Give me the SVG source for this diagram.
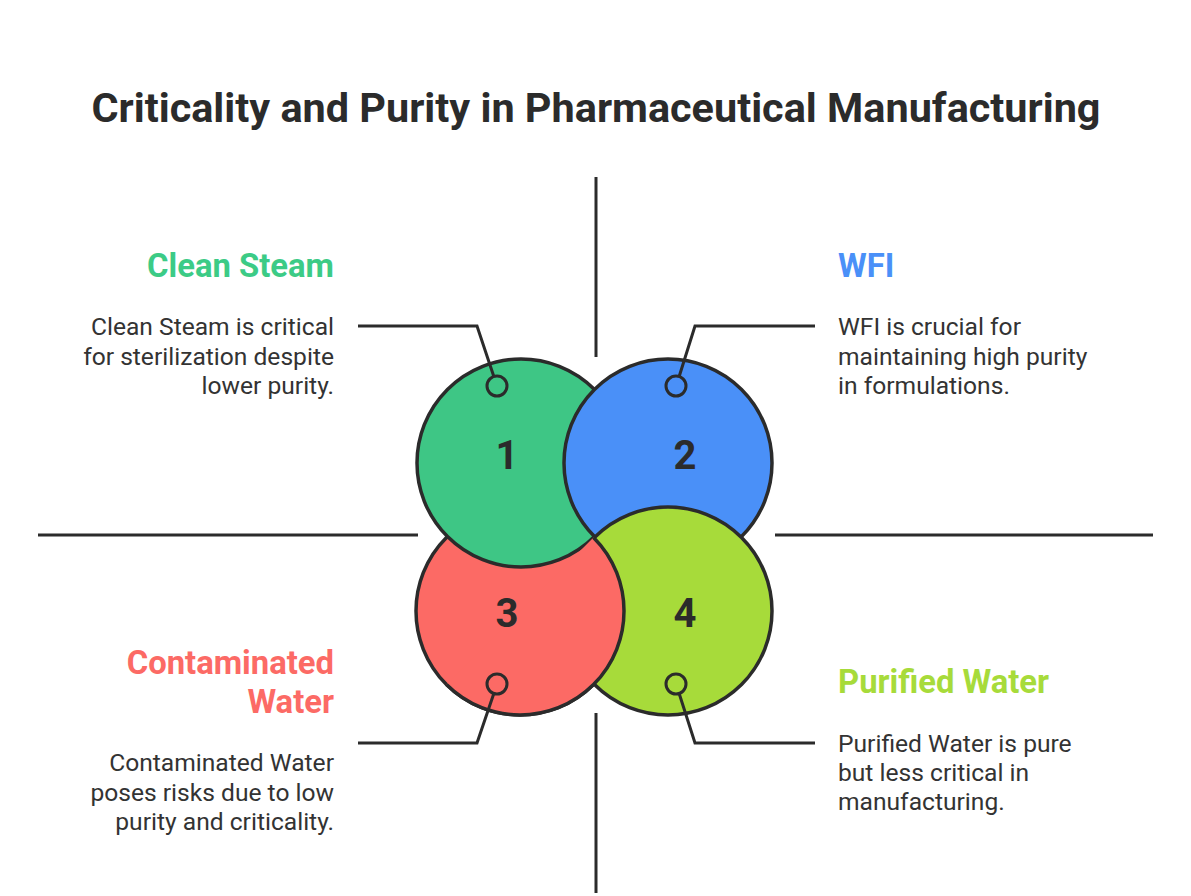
<svg xmlns="http://www.w3.org/2000/svg" width="1191" height="896" viewBox="0 0 1191 896">
<defs>
<style>
.ln{stroke:#2b2b2b;stroke-width:3;fill:none;stroke-linecap:butt}
.c{stroke:#2b2b2b;stroke-width:3.5}
.m{stroke:#2b2b2b;stroke-width:3}
.t{font-family:Roboto,"Liberation Sans",sans-serif;fill:#2b2b2b}
.title{font-size:41.4px;font-weight:700}
.h{font-size:32.8px;font-weight:700}
.b{font-size:24.6px;fill:#333333}
.n{font-size:40px;font-weight:700;text-anchor:middle}
.g{fill:#3ec685}.bl{fill:#4a90f8}.r{fill:#fc6a65}.y{fill:#a7db3a}
</style>
<clipPath id="half"><polygon points="994,137 1191,137 1191,896 235,896"/></clipPath>
</defs>
<rect width="1191" height="896" fill="#ffffff"/>
<text class="t title" x="596" y="122" text-anchor="middle">Criticality and Purity in Pharmaceutical Manufacturing</text>
<g id="axes">
<line class="ln" x1="596" y1="177" x2="596" y2="357"/>
<line class="ln" x1="596" y1="713" x2="596" y2="893"/>
<line class="ln" x1="38" y1="535" x2="418" y2="535"/>
<line class="ln" x1="775" y1="535" x2="1153" y2="535"/>
</g>
<g id="circles">
<circle id="c3" class="c r" cx="520" cy="611" r="104"/>
<circle id="c1" class="c g" cx="521" cy="463" r="104"/>
<circle id="c2" class="c bl" cx="668" cy="463" r="104"/>
<circle id="c4" class="c y" cx="668" cy="611" r="104"/>
<circle class="c r" cx="520" cy="611" r="104" clip-path="url(#half)"/>
</g>
<g id="connectors">
<polyline class="ln" points="358,326 477,326 494,377"/>
<polyline class="ln" points="815,326 695,326 679,377"/>
<polyline class="ln" points="358,743 477,743 494,693"/>
<polyline class="ln" points="815,743 695,743 679,693"/>
</g>
<g id="node1">
<circle class="m g" cx="497" cy="386" r="10"/>
<text class="t n" x="507" y="469">1</text>
<text class="t h" x="334" y="277" text-anchor="end" style="fill:#3ccb86">Clean Steam</text>
<text class="t b" text-anchor="end"><tspan x="334" y="335">Clean Steam is critical</tspan><tspan x="334" y="365">for sterilization despite</tspan><tspan x="334" y="394">lower purity.</tspan></text>
</g>
<g id="node2">
<circle class="m bl" cx="676" cy="386" r="10"/>
<text class="t n" x="685" y="469">2</text>
<text class="t h" x="838" y="277" style="fill:#4a90f8">WFI</text>
<text class="t b"><tspan x="838" y="335">WFI is crucial for</tspan><tspan x="838" y="365">maintaining high purity</tspan><tspan x="838" y="394">in formulations.</tspan></text>
</g>
<g id="node3">
<circle class="m r" cx="497" cy="684" r="10"/>
<text class="t n" x="507" y="627">3</text>
<text class="t h" text-anchor="end" style="fill:#fc6a65"><tspan x="334" y="674">Contaminated</tspan><tspan x="334" y="713">Water</tspan></text>
<text class="t b" text-anchor="end"><tspan x="334" y="771">Contaminated Water</tspan><tspan x="334" y="801">poses risks due to low</tspan><tspan x="334" y="830">purity and criticality.</tspan></text>
</g>
<g id="node4">
<circle class="m y" cx="676" cy="684" r="10"/>
<text class="t n" x="685" y="627">4</text>
<text class="t h" x="838" y="693" style="fill:#a7db3a">Purified Water</text>
<text class="t b"><tspan x="838" y="752">Purified Water is pure</tspan><tspan x="838" y="781">but less critical in</tspan><tspan x="838" y="810">manufacturing.</tspan></text>
</g>
</svg>
